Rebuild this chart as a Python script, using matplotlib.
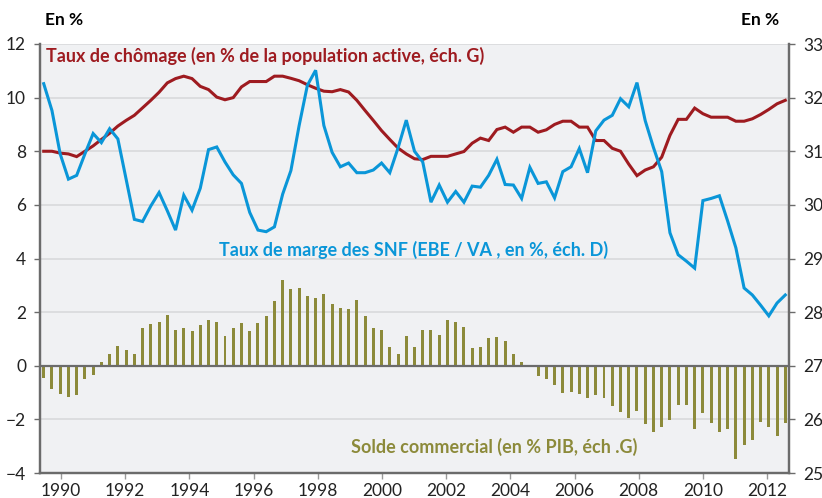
import numpy as np
import matplotlib
matplotlib.use("Agg")
import matplotlib.pyplot as plt

plt.rcParams['font.family'] = ['Lato', 'DejaVu Sans']

# quarterly series, 1989 Q3 -> 2012 Q3 (91 points)
chomage = [8.0, 8.0, 7.93, 7.9, 7.8, 8.0, 8.2, 8.44, 8.67, 8.94, 9.15, 9.34, 9.62, 9.9, 10.2,
           10.55, 10.71, 10.8, 10.71, 10.42, 10.3, 10.02, 9.92, 10.0, 10.4, 10.6, 10.6, 10.6, 10.8,
           10.8, 10.72, 10.63, 10.48, 10.35, 10.24, 10.22, 10.3, 10.21, 9.9, 9.52, 9.15, 8.77, 8.44,
           8.12, 7.9, 7.72, 7.69, 7.81, 7.81, 7.81, 7.9, 7.99, 8.3, 8.49, 8.4, 8.81, 8.9, 8.71, 8.9,
           8.9, 8.71, 8.8, 9.0, 9.12, 9.12, 8.9, 8.9, 8.4, 8.4, 8.11, 8.0, 7.52, 7.09, 7.3, 7.42,
           7.78, 8.59, 9.19, 9.19, 9.61, 9.4, 9.27, 9.27, 9.27, 9.12, 9.12, 9.21, 9.37, 9.56, 9.77, 9.9]

taux_marge = [32.26, 31.76, 30.95, 30.48, 30.55, 30.95, 31.33, 31.16, 31.42, 31.23, 30.48, 29.73,
              29.69, 29.98, 30.23, 29.89, 29.53, 30.18, 29.9, 30.31, 31.03, 31.08, 30.8, 30.56, 30.4,
              29.86, 29.53, 29.5, 29.59, 30.2, 30.64, 31.48, 32.23, 32.51, 31.48, 30.98, 30.71, 30.78,
              30.6, 30.6, 30.65, 30.78, 30.6, 31.06, 31.58, 31.0, 30.8, 30.05, 30.37, 30.05, 30.25,
              30.05, 30.35, 30.33, 30.55, 30.85, 30.38, 30.37, 30.12, 30.7, 30.4, 30.43, 30.13, 30.62,
              30.71, 31.05, 30.6, 31.38, 31.58, 31.67, 31.98, 31.83, 32.28, 31.57, 31.07, 30.62, 29.48,
              29.07, 28.95, 28.82, 30.08, 30.12, 30.17, 29.7, 29.2, 28.45, 28.32, 28.13, 27.93, 28.17,
              28.32]

solde = [-0.46, -0.88, -1.06, -1.15, -1.1, -0.5, -0.34, 0.15, 0.45, 0.74, 0.59, 0.45, 1.39, 1.54,
         1.63, 1.91, 1.33, 1.39, 1.29, 1.51, 1.69, 1.63, 1.11, 1.39, 1.58, 1.28, 1.58, 1.84, 2.43,
         3.18, 2.88, 2.9, 2.61, 2.53, 2.66, 2.29, 2.14, 2.1, 2.45, 1.84, 1.41, 1.34, 0.69, 0.43, 1.11,
         0.69, 1.35, 1.33, 1.14, 1.7, 1.65, 1.43, 0.66, 0.69, 1.04, 1.06, 0.94, 0.45, 0.15, 0.04,
         -0.4, -0.48, -0.7, -1.01, -0.99, -1.06, -1.19, -1.1, -1.19, -1.49, -1.71, -1.94, -1.68,
         -2.19, -2.48, -2.28, -2.03, -1.46, -1.46, -2.35, -1.78, -2.13, -2.48, -2.35, -3.49, -2.94,
         -2.76, -2.1, -2.3, -2.61, -2.13]

years = ['1990', '1992', '1994', '1996', '1998', '2000', '2002', '2004', '2006', '2008', '2010', '2012']

red = '#9e1b20'
blue = '#0a96d8'
olive = '#8c8a3a'
grey = '#6b6b6b'

x = np.arange(len(chomage))

fig = plt.figure(figsize=(8.22, 4.98), dpi=100)
ax = fig.add_axes([40/822, 25/498, 749/822, 429/498])
ax.set_facecolor('#f0f1f3')
ax2 = ax.twinx()

ax.bar(x, solde, width=0.36, color=olive, zorder=2)
ax.axhline(0, color=grey, lw=1.6, zorder=3)
ax.plot(x, chomage, color=red, lw=2.2, zorder=4, solid_joinstyle='miter')
ax2.plot(x, taux_marge, color=blue, lw=2.2, zorder=4, solid_joinstyle='miter')

ax.set_ylim(-4, 12)
ax2.set_ylim(25, 33)
ax.set_xlim(-0.45, 90.45)
ax.set_yticks(range(-4, 13, 2))
ax2.set_yticks(range(25, 34))
ax.set_xticks(np.linspace(2.1, 87.8, len(years)))
ax.set_xticklabels(years)
ax.grid(axis='y', color='#d8d9dc', lw=1.2, zorder=0)
ax.set_axisbelow(True)

for a in (ax, ax2):
    a.spines['top'].set_visible(False)
    for s in ('left', 'right', 'bottom'):
        a.spines[s].set_color(grey)
        a.spines[s].set_linewidth(1.6)
ax.tick_params(axis='y', length=4, width=1, color=grey, labelsize=12.5, pad=6, labelcolor='#222222')
ax.tick_params(axis='x', length=4, width=1, color='#999999', labelsize=12.5, pad=3, labelcolor='#222222')
ax2.tick_params(axis='y', length=4, width=1, color=grey, labelsize=12.5, pad=6, labelcolor='#222222')

ax.text(0.28, 11.56, 'Taux de chômage (en % de la population active, éch. G)', color=red,
        fontsize=13, fontweight='bold', va='center', ha='left', zorder=5)
ax.text(21.3, 4.32, 'Taux de marge des SNF (EBE / VA , en %, éch. D)', color=blue,
        fontsize=13, fontweight='bold', va='center', ha='left', zorder=5)
ax.text(37.3, -3.03, 'Solde commercial (en % PIB, éch .G)', color=olive,
        fontsize=13, fontweight='bold', va='center', ha='left', zorder=5)

fig.text(45/822, 1 - 20/498, 'En %', fontsize=12.5, fontweight='bold', va='center', ha='left')
fig.text(779/822, 1 - 20/498, 'En %', fontsize=12.5, fontweight='bold', va='center', ha='right')

fig.savefig('out.png', dpi=100)
